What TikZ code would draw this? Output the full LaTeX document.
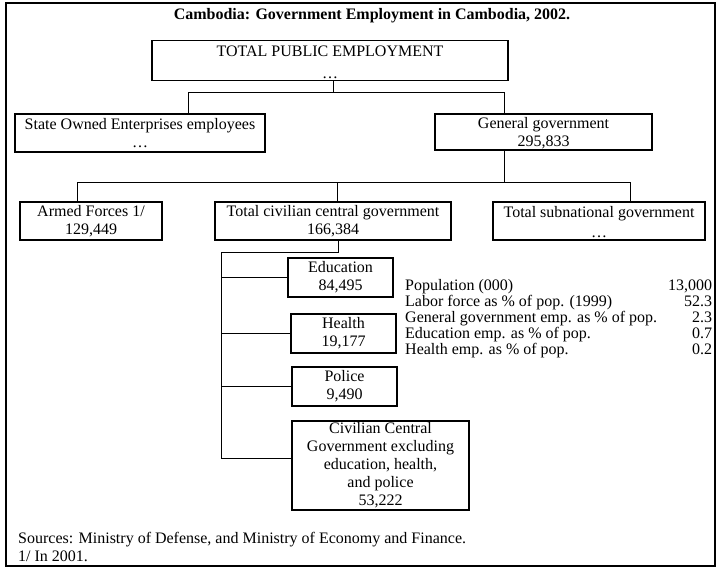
\documentclass[tikz,border=0pt]{standalone}
\usepackage{fontspec}
\setmainfont{Liberation Serif}
\usepackage{tikz}
\usetikzlibrary{positioning, calc}

\begin{document}
\begin{tikzpicture}[
      x=1pt, y=-1pt,
      every node/.style={font=\fontsize{16}{18}\selectfont},
      orgbox/.style={draw, line width=1.2pt, align=center, inner sep=1pt},
      link/.style={line width=0.9pt}
    ]
      \useasboundingbox (0,0) rectangle (722,569);
      \draw[line width=1.3pt] (6,3) rectangle (715,566);

      \node[anchor=base, font=\fontsize{16}{18}\selectfont\bfseries] (ttl) at (372,19.5) {Cambodia: Government Employment in Cambodia, 2002.};

      \node[orgbox, minimum width=356pt, minimum height=39pt] (tpe) at (330,60.5) {\rule{0pt}{15pt}TOTAL PUBLIC EMPLOYMENT\\[4pt]\ldots};
      \node[orgbox, minimum width=250pt, minimum height=38pt] (soe) at (140,133) {State Owned Enterprises employees\\\ldots};
      \node[orgbox, minimum width=217pt, minimum height=36pt] (gg) at (543.5,132) {\rule{0pt}{13pt}General government\\295,833};

      \node[orgbox, minimum width=142pt, minimum height=38pt] (armed) at (91,221) {Armed Forces 1/\\129,449};
      \node[orgbox, minimum width=236pt, minimum height=38pt] (civ) at (333,221) {Total civilian central government\\166,384};
      \node[orgbox, minimum width=212pt, minimum height=38pt] (subn) at (599,221) {\rule{0pt}{13pt}Total subnational government\\[2pt]\ldots};

      \node[orgbox, minimum width=105pt, minimum height=39pt] (edu) at (340.5,277.5) {Education\\84,495};
      \node[orgbox, minimum width=105pt, minimum height=39pt] (hlth) at (343.5,333.5) {Health\\19,177};
      \node[orgbox, minimum width=105pt, minimum height=39pt] (pol) at (344.5,386.5) {Police\\9,490};
      \node[orgbox, minimum width=177pt, minimum height=89pt] (rest) at (380.5,465.5) {Civilian Central\\Government excluding\\education, health,\\and police\\53,222};

      \coordinate (bus1) at (0,92);
      \coordinate (bus2) at (0,182);
      \coordinate (spine) at (221,252);
      \coordinate (restin) at ([yshift=7.5pt]rest.west);

      \draw[link] ([xshift=3pt]tpe.south) -- ([xshift=3pt]tpe.south |- bus1);
      \draw[link] ([xshift=48pt]soe.north) |- ([xshift=-39pt]gg.north |- bus1) -- ([xshift=-39pt]gg.north);
      \draw[link] ([xshift=-39pt]gg.south) -- ([xshift=-39pt]gg.south |- bus2);
      \draw[link] ([xshift=-14pt]armed.north) |- ([xshift=31pt]subn.north |- bus2) -- ([xshift=31pt]subn.north);
      \draw[link] ([xshift=4pt]civ.north) -- ([xshift=4pt]civ.north |- bus2);
      \draw[link] ([xshift=5pt]civ.south) |- (spine) |- (restin);
      \foreach \n in {edu,hlth,pol}
        \draw[link] (spine |- \n.west) -- (\n.west);

      \node[anchor=base west, inner sep=0pt, font=\fontsize{16}{16}\selectfont] (stats) at (405,290.5) {%
        \begin{tabular*}{307pt}[t]{@{}l@{\extracolsep{\fill}}r@{}}
          Population (000) & 13,000\\
          Labor force as \% of pop. (1999) & 52.3\\
          General government emp. as \% of pop. & 2.3\\
          Education emp. as \% of pop. & 0.7\\
          Health emp. as \% of pop. & 0.2
        \end{tabular*}};

      \node[anchor=north west, inner sep=0pt, align=left] (src) at (18,532) {Sources: Ministry of Defense, and Ministry of Economy and Finance.\\1/ In 2001.};
    \end{tikzpicture}
\end{document}
